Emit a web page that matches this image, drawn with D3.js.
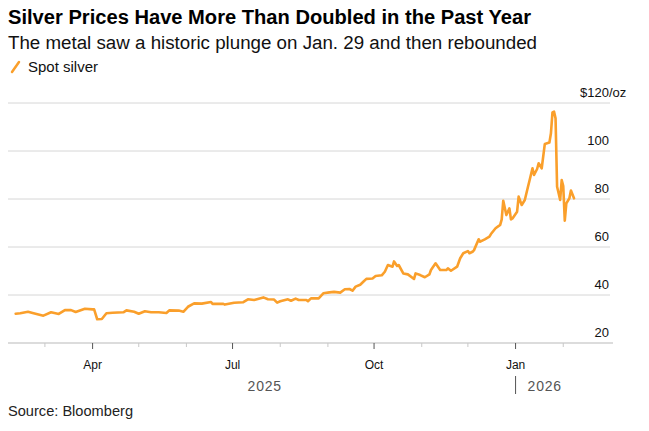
<!DOCTYPE html>
<html>
<head>
<meta charset="utf-8">
<script src="https://cdn.jsdelivr.net/npm/d3@7"></script>
<style>
  body { margin: 0; background: #fff; }
  svg { font-family: "Liberation Sans", Arial, sans-serif; }
</style>
</head>
<body>
<svg id="chart" width="649" height="431"></svg>
<script>
// spot silver, $/oz
const dates = [
  '2025-02-10','2025-02-13','2025-02-18','2025-02-21','2025-02-28','2025-03-05','2025-03-10','2025-03-14',
  '2025-03-18','2025-03-21','2025-03-27','2025-04-01','2025-04-02','2025-04-04','2025-04-07','2025-04-10',
  '2025-04-14','2025-04-21','2025-04-23','2025-04-28','2025-05-01','2025-05-05','2025-05-09','2025-05-14',
  '2025-05-19','2025-05-21','2025-05-27','2025-05-30','2025-06-02','2025-06-06','2025-06-11','2025-06-17',
  '2025-06-18','2025-06-25','2025-06-26','2025-07-02','2025-07-08','2025-07-11','2025-07-15','2025-07-21',
  '2025-07-24','2025-07-28','2025-07-30','2025-08-01','2025-08-06','2025-08-08','2025-08-11','2025-08-13',
  '2025-08-18','2025-08-19','2025-08-21','2025-08-26','2025-08-29','2025-09-02','2025-09-05','2025-09-09',
  '2025-09-12','2025-09-15','2025-09-17','2025-09-19','2025-09-22','2025-09-24','2025-09-26','2025-09-30',
  '2025-10-02','2025-10-06','2025-10-08','2025-10-10','2025-10-13','2025-10-14','2025-10-16','2025-10-17',
  '2025-10-20','2025-10-23','2025-10-27','2025-10-28','2025-10-31','2025-11-03','2025-11-06','2025-11-07',
  '2025-11-10','2025-11-13','2025-11-17','2025-11-18','2025-11-20','2025-11-24','2025-11-26','2025-11-28',
  '2025-12-01','2025-12-02','2025-12-04','2025-12-05','2025-12-08','2025-12-09','2025-12-12','2025-12-15',
  '2025-12-16','2025-12-19','2025-12-22','2025-12-23','2025-12-24','2025-12-26','2025-12-28','2025-12-29',
  '2025-12-30','2026-01-02','2026-01-03','2026-01-05','2026-01-07','2026-01-09','2026-01-10','2026-01-12',
  '2026-01-13','2026-01-15','2026-01-16','2026-01-18','2026-01-20','2026-01-23','2026-01-24','2026-01-25',
  '2026-01-26','2026-01-27','2026-01-28','2026-01-29','2026-01-30','2026-01-31','2026-02-01','2026-02-02',
  '2026-02-03','2026-02-05','2026-02-06','2026-02-08'
];
const prices = [
  32.2, 32.4, 33.0, 32.5, 31.4, 32.8, 32.1, 33.7,
  33.7, 32.9, 34.3, 34.0, 34.0, 29.9, 30.0, 32.4,
  32.6, 32.8, 33.6, 33.0, 32.2, 33.2, 32.8, 32.8,
  32.5, 33.6, 33.5, 33.0, 35.1, 36.5, 36.4, 37.1,
  36.3, 36.3, 36.0, 36.8, 37.0, 38.2, 37.9, 39.0,
  38.2, 38.1, 36.8, 37.4, 38.2, 37.6, 38.5, 37.9,
  37.9, 37.4, 38.6, 38.6, 40.7, 41.1, 41.3, 41.0,
  42.4, 42.5, 41.8, 43.5, 44.3, 45.5, 46.7, 46.9,
  47.9, 48.2, 49.7, 52.5, 51.8, 54.0, 52.1, 52.5,
  49.0, 48.6, 46.7, 49.0, 48.3, 47.4, 48.6, 50.4,
  53.2, 50.4, 50.4, 51.1, 50.1, 51.8, 55.3, 57.4,
  58.3, 57.4, 58.0, 58.7, 63.2, 62.2, 63.2, 64.3,
  65.4, 67.8, 69.2, 71.5, 79.3, 73.3, 76.1, 71.5,
  71.9, 74.7, 81.0, 77.5, 79.6, 84.9, 87.5, 92.8,
  90.0, 92.5, 94.9, 92.8, 102.9, 103.5, 107.4, 116.1,
  116.4, 113.6, 85.1, 82.4, 79.6, 87.9, 85.4, 71.0,
  78.2, 80.3, 83.5, 80.3
];
const yTicks = [20, 40, 60, 80, 100, 120];
const majorMonths = ['2025-04-01', '2025-07-01', '2025-10-01', '2026-01-01'];
const monthLabels = ['Apr', 'Jul', 'Oct', 'Jan'];
const minorMonths = ['2025-03-01', '2025-05-01', '2025-06-01', '2025-08-01', '2025-09-01',
  '2025-11-01', '2025-12-01', '2026-02-01'];

const parse = d3.timeParse('%Y-%m-%d');
const series = dates.map((d, i) => ({ date: parse(d), value: prices[i] }));

const svg = d3.select('#chart');
const orange = '#fa9f2b';

const x = d3.scaleTime().domain([parse('2025-02-05'), parse('2026-03-06')]).range([8, 614]);
const y = d3.scaleLinear().domain([20, 120]).range([343, 103]);

// headings
svg.append('text').attr('x', 8).attr('y', 24).style('font-size', '19.5px').style('font-weight', 'bold')
  .attr('textLength', 523).attr('lengthAdjust', 'spacingAndGlyphs')
  .style('fill', '#000').text('Silver Prices Have More Than Doubled in the Past Year');
svg.append('text').attr('x', 8).attr('y', 49).style('font-size', '18px').style('fill', '#111')
  .attr('textLength', 529).attr('lengthAdjust', 'spacingAndGlyphs')
  .text('The metal saw a historic plunge on Jan. 29 and then rebounded');

// legend
svg.append('line').attr('x1', 12).attr('y1', 72).attr('x2', 19).attr('y2', 62)
  .style('stroke', orange).style('stroke-width', 2.5).style('stroke-linecap', 'round');
svg.append('text').attr('x', 28).attr('y', 72).style('font-size', '14px').style('fill', '#111')
  .attr('textLength', 70).attr('lengthAdjust', 'spacingAndGlyphs').text('Spot silver');

// grid
svg.append('g').selectAll('line').data(yTicks.slice(1)).enter().append('line')
  .attr('x1', 8).attr('x2', 610).attr('y1', d => y(d)).attr('y2', d => y(d))
  .style('stroke', '#d6d6d6').style('stroke-width', 1);

// y labels
const yl = svg.append('g').style('font-size', '13px').style('fill', '#111');
yl.selectAll('text').data(yTicks.slice(0, -1)).enter().append('text')
  .attr('x', 609).attr('y', d => y(d) - 6).attr('text-anchor', 'end').text(d => d);
const topLabel = yl.append('text').attr('y', y(120) - 6).text('$' + yTicks[yTicks.length - 1]);
const w = topLabel.node().getComputedTextLength();
topLabel.attr('x', 609 - w).append('tspan').text('/oz');

// x axis
svg.append('line').attr('x1', 8).attr('x2', 613).attr('y1', y(20)).attr('y2', y(20))
  .style('stroke', '#d0d0d0').style('stroke-width', 1.5);
svg.append('g').selectAll('line').data(minorMonths).enter().append('line')
  .attr('x1', d => x(parse(d))).attr('x2', d => x(parse(d)))
  .attr('y1', y(20)).attr('y2', y(20) + 4).style('stroke', '#c8c8c8');
svg.append('g').selectAll('line').data(majorMonths).enter().append('line')
  .attr('x1', d => x(parse(d))).attr('x2', d => x(parse(d)))
  .attr('y1', y(20)).attr('y2', y(20) + 6).style('stroke', '#555');
svg.append('g').selectAll('text').data(majorMonths).enter().append('text')
  .attr('x', d => x(parse(d))).attr('y', 369).attr('text-anchor', 'middle')
  .style('font-size', '12px').style('fill', '#111').text((d, i) => monthLabels[i]);

// years
const jan = x(parse('2026-01-01'));
svg.append('text').attr('x', (8 + jan) / 2 + 3).attr('y', 391).attr('text-anchor', 'middle')
  .style('font-size', '14px').style('fill', '#555').style('letter-spacing', '0.8px').text('2025');
svg.append('line').attr('x1', jan).attr('x2', jan).attr('y1', 376).attr('y2', 394)
  .style('stroke', '#555').style('stroke-width', 1);
svg.append('text').attr('x', jan + 12).attr('y', 391)
  .style('font-size', '14px').style('fill', '#555').style('letter-spacing', '0.8px').text('2026');

// line
const line = d3.line().x(d => x(d.date)).y(d => y(d.value));
svg.append('path').datum(series).attr('d', line)
  .style('fill', 'none').style('stroke', orange).style('stroke-width', 2.6)
  .style('stroke-linejoin', 'round').style('stroke-linecap', 'round');

svg.append('text').attr('x', 8).attr('y', 416).style('font-size', '14px').style('fill', '#222')
  .attr('textLength', 125).attr('lengthAdjust', 'spacingAndGlyphs').text('Source: Bloomberg');
</script>
</body>
</html>
